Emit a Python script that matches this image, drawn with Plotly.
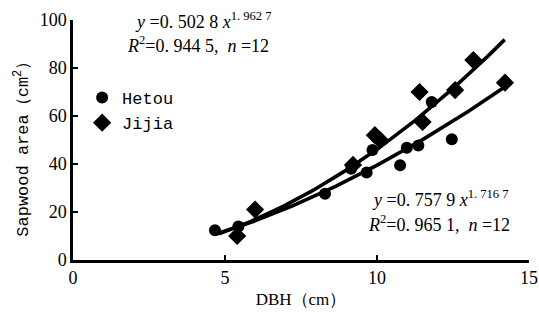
import numpy as np
import plotly.graph_objects as go

hetou_dbh = [4.67, 5.44, 8.29, 9.15, 9.66, 9.85, 10.76, 10.98, 11.36, 11.8, 12.46]
hetou_area = [12.4, 14.0, 27.6, 38.0, 36.5, 45.8, 39.5, 46.8, 47.7, 65.8, 50.3]
jijia_dbh = [5.40, 5.99, 9.21, 9.93, 10.1, 11.4, 11.5, 12.57, 13.17, 14.21]
jijia_area = [10.0, 21.0, 39.6, 52.0, 50.0, 70.0, 57.5, 70.8, 83.3, 73.9]

# Fitted power curves y = a * x^b (coefficients as printed on the chart)
fit1_a, fit1_b, fit1_range = 0.5028, 1.9627, [4.8, 14.2]
fit2_a, fit2_b, fit2_range = 0.7579, 1.7167, [4.7, 14.2]

x_ticks = [0, 5, 10, 15]
y_ticks = [0, 20, 40, 60, 80, 100]

serif = "Liberation Serif"
mono = "Liberation Mono"

fig = go.Figure()
for a, b, rng in [(fit1_a, fit1_b, fit1_range), (fit2_a, fit2_b, fit2_range)]:
    xs = np.linspace(rng[0], rng[1], 80)
    fig.add_trace(go.Scatter(x=xs, y=a * xs ** b, mode="lines",
                             line=dict(color="black", width=3.6),
                             showlegend=False, hoverinfo="skip"))

fig.add_trace(go.Scatter(x=hetou_dbh, y=hetou_area, mode="markers", name="Hetou",
                         marker=dict(symbol="circle", size=12, color="black")))
fig.add_trace(go.Scatter(x=jijia_dbh, y=jijia_area, mode="markers", name="Jijia",
                         marker=dict(symbol="diamond", size=14, color="black")))

fig.update_layout(
    width=539, height=323,
    margin=dict(l=73, r=10, t=20, b=63),
    paper_bgcolor="white", plot_bgcolor="white",
    showlegend=True,
    legend=dict(x=0.02, y=0.75, xanchor="left", yanchor="top",
                font=dict(family=mono, size=17, color="black"),
                bgcolor="rgba(0,0,0,0)", tracegroupgap=6, itemwidth=30),
    xaxis=dict(range=[0, 15], tickvals=x_ticks, ticks="inside", ticklen=5, tickwidth=2,
               tickcolor="black", showline=True, linecolor="black", linewidth=2.5,
               showgrid=False, zeroline=False, mirror=False, automargin=False,
               tickfont=dict(family=serif, size=18, color="black"),
               title=dict(text="DBH（cm）", font=dict(family=serif, size=17, color="black"),
                          standoff=6)),
    yaxis=dict(range=[0, 100], tickvals=y_ticks, ticks="inside", ticklen=5, tickwidth=2,
               tickcolor="black", showline=True, linecolor="black", linewidth=2.5,
               showgrid=False, zeroline=False, automargin=False,
               tickfont=dict(family=serif, size=18, color="black")),
)

# y-axis title placed as rotated text
fig.add_annotation(xref="paper", yref="paper", x=-0.112, y=0.48, xanchor="center", yanchor="middle",
                   textangle=-90, showarrow=False,
                   text="Sapwood area（cm<sup>2</sup>）",
                   font=dict(family=mono, size=17, color="black"))

eq_font = dict(family=serif, size=18, color="black")
fig.add_annotation(xref="paper", yref="paper", x=0.132, y=1.0, xanchor="left", yanchor="middle",
                   text="<i>y</i> =0. 502 8 <i>x</i><sup>1. 962 7</sup>", showarrow=False, font=eq_font)
fig.add_annotation(xref="paper", yref="paper", x=0.115, y=0.896, xanchor="left", yanchor="middle",
                   text="<i>R</i><sup>2</sup>=0. 944 5,  <i>n</i> =12", showarrow=False, font=eq_font)
fig.add_annotation(xref="paper", yref="paper", x=0.652, y=0.256, xanchor="left", yanchor="middle",
                   text="<i>y</i> =0. 757 9 <i>x</i><sup>1. 716 7</sup>", showarrow=False, font=eq_font)
fig.add_annotation(xref="paper", yref="paper", x=0.642, y=0.152, xanchor="left", yanchor="middle",
                   text="<i>R</i><sup>2</sup>=0. 965 1,  <i>n</i> =12", showarrow=False, font=eq_font)

fig.write_html("out.html")
